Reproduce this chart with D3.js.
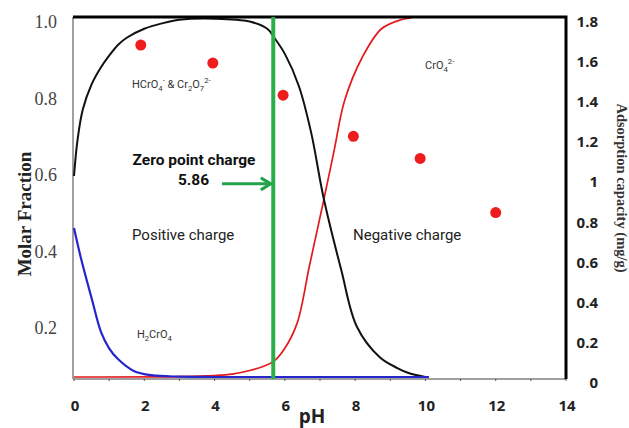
<!DOCTYPE html>
<html>
<head>
<meta charset="utf-8">
<script src="https://cdn.jsdelivr.net/npm/d3@7"></script>
<style>
  html, body { margin: 0; padding: 0; background: #fff; }
  svg { display: block; }
</style>
</head>
<body>
<svg id="chart" width="629" height="428"></svg>
<script>
// ---------- DATA ----------
// Molar fraction curves (pH vs fraction)
const blackPH   = [0, 0.1, 0.25, 0.5, 0.75, 1, 1.25, 1.5, 2, 2.5, 3, 4, 5, 5.5, 5.7, 6, 6.4, 6.75, 7.1, 7.6, 8.05, 8.7, 9.2, 9.5, 10];
const blackFrac = [0.56, 0.66, 0.745, 0.815, 0.86, 0.895, 0.925, 0.945, 0.97, 0.985, 0.995, 0.998, 0.99, 0.97, 0.945, 0.90, 0.81, 0.68, 0.50, 0.30, 0.14, 0.055, 0.025, 0.012, 0.0];

const redPH   = [0, 3, 4, 4.5, 5, 5.4, 5.7, 6, 6.35, 6.7, 7.1, 7.4, 7.7, 8.2, 8.75, 9.3, 9.6];
const redFrac = [0, 0.001, 0.004, 0.008, 0.018, 0.03, 0.045, 0.08, 0.15, 0.31, 0.49, 0.63, 0.77, 0.89, 0.97, 0.995, 1.0];

const bluePH   = [0, 0.2, 0.5, 0.77, 1.0, 1.25, 1.7, 2.2, 3, 4, 6, 8, 10.1];
const blueFrac = [0.415, 0.33, 0.22, 0.125, 0.08, 0.05, 0.017, 0.005, 0.001, 0, 0, 0, 0];

// Adsorption capacity points (right axis)
const adsPH  = [1.9, 3.95, 5.95, 7.95, 9.85, 12.0];
const adsCap = [1.685, 1.595, 1.435, 1.23, 1.12, 0.85];

// Tick labels
const xTicks      = [0, 2, 4, 6, 8, 10, 12, 14];
const leftTicks   = [0.2, 0.4, 0.6, 0.8, 1.0];
const rightTicks  = [0, 0.2, 0.4, 0.6, 0.8, 1, 1.2, 1.4, 1.6, 1.8];

const zpcLinePH = 5.67;      // where the green line is drawn
const zpcLabel  = "5.86";

// ---------- LAYOUT ----------
const svg = d3.select("#chart");
const L = 73, R = 566, T = 17, B = 379;

const x = d3.scaleLinear().domain([0, 14]).range([74, 566]);
const yFrac = d3.scaleLinear().domain([0, 1]).range([377, 18]);
const yLeftLabel = d3.scaleLinear().domain([0.2, 1.0]).range([328, 22]);
const yRight = d3.scaleLinear().domain([0, 1.8]).range([383, 22]);

const zip = (a, b) => a.map((v, i) => [v, b[i]]);
const line = d3.line().x(d => x(d[0])).y(d => yFrac(d[1])).curve(d3.curveCatmullRom.alpha(0.5));

// frame: left & bottom gray, top & right black
svg.append("line").attr("x1", L).attr("x2", L).attr("y1", T).attr("y2", B)
  .attr("stroke", "#808080").attr("stroke-width", 1.5);
svg.append("line").attr("x1", L).attr("x2", R).attr("y1", B).attr("y2", B)
  .attr("stroke", "#808080").attr("stroke-width", 1.5);

// small bottom ticks
const minor = d3.range(0, 15, 1);
svg.append("g").selectAll("line").data(minor).join("line")
  .attr("x1", d => x(d)).attr("x2", d => x(d))
  .attr("y1", B).attr("y2", B + 2)
  .attr("stroke", "#555").attr("stroke-width", 1);

// curves
svg.append("path").datum(zip(redPH, redFrac)).attr("d", line)
  .attr("fill", "none").attr("stroke", "#e3191c").attr("stroke-width", 1.7);
svg.append("path").datum(zip(blackPH, blackFrac)).attr("d", line)
  .attr("fill", "none").attr("stroke", "#111").attr("stroke-width", 2);
svg.append("path").datum(zip(bluePH, blueFrac)).attr("d", line)
  .attr("fill", "none").attr("stroke", "#2525cc").attr("stroke-width", 2.2);

// top and right border (black, thick)
svg.append("path")
  .attr("d", `M${L},${T}H${R}V${B}`)
  .attr("fill", "none").attr("stroke", "#000").attr("stroke-width", 3);

// green zero-point-charge line
svg.append("line")
  .attr("x1", x(zpcLinePH)).attr("x2", x(zpcLinePH))
  .attr("y1", T).attr("y2", B)
  .attr("stroke", "#2aae4a").attr("stroke-width", 4);

// adsorption points
svg.append("g").selectAll("circle").data(zip(adsPH, adsCap)).join("circle")
  .attr("cx", d => x(d[0])).attr("cy", d => yRight(d[1]))
  .attr("r", 5.5).attr("fill", "#ee1c1c");

// arrow
const ay = yFrac(0.538);
const ax1 = x(4.21), ax2 = x(5.6);
svg.append("line").attr("x1", ax1).attr("x2", ax2 - 3).attr("y1", ay).attr("y2", ay)
  .attr("stroke", "#22a24a").attr("stroke-width", 3);
svg.append("path")
  .attr("d", `M${ax2 - 10},${ay - 6} L${ax2},${ay} L${ax2 - 10},${ay + 6}`)
  .attr("fill", "none").attr("stroke", "#22a24a").attr("stroke-width", 3);

// x tick labels
svg.append("g").selectAll("text").data(xTicks).join("text")
  .attr("x", d => x(d) + 1).attr("y", 411)
  .attr("text-anchor", "middle")
  .attr("font-family", "'Open Sans', sans-serif").attr("font-weight", "bold")
  .attr("font-size", 15).attr("fill", "#222")
  .text(d => d);
svg.append("text").attr("x", 312).attr("y", 423).attr("text-anchor", "middle")
  .attr("font-family", "'Open Sans', sans-serif").attr("font-weight", "bold")
  .attr("font-size", 19).attr("fill", "#222").text("pH");

// left tick labels (serif)
svg.append("g").selectAll("text").data(leftTicks).join("text")
  .attr("x", 57).attr("y", d => yLeftLabel(d) + 6)
  .attr("text-anchor", "end")
  .attr("font-family", "'Liberation Serif', 'DejaVu Serif', serif")
  .attr("font-size", 18).attr("fill", "#444")
  .text(d => d.toFixed(1));

svg.append("text")
  .attr("transform", "translate(31,214) rotate(-90)")
  .attr("text-anchor", "middle")
  .attr("font-family", "'Liberation Serif', serif").attr("font-weight", "bold")
  .attr("font-size", 19).attr("fill", "#222").text("Molar Fraction");

// right tick labels
svg.append("g").selectAll("text").data(rightTicks).join("text")
  .attr("x", 598).attr("y", d => yRight(d) + 5)
  .attr("text-anchor", "end")
  .attr("font-family", "'Open Sans', sans-serif").attr("font-weight", "bold")
  .attr("font-size", 15).attr("fill", "#222")
  .text(d => d === 0 || d === 1 ? d : d.toFixed(1));

svg.append("text")
  .attr("transform", "translate(617,188) rotate(90)")
  .attr("text-anchor", "middle")
  .attr("font-family", "'Liberation Serif', serif").attr("font-weight", "bold")
  .attr("font-size", 14.5).attr("fill", "#333").text("Adsorption capacity (mg/g)");

// annotations
const sans = "Roboto, 'Open Sans', sans-serif";
function chem(xp, yp, parts, size) {
  const t = svg.append("text").attr("x", xp).attr("y", yp)
    .attr("font-family", sans).attr("font-size", size).attr("fill", "#333");
  parts.forEach(p => {
    const s = t.append("tspan").text(p[0]);
    if (p[1] === "sub") s.attr("font-size", size * 0.7).attr("dy", 3);
    else if (p[1] === "sup") s.attr("font-size", size * 0.7).attr("dy", -5);
    if (p[2]) s.attr("dy", (p[1] === "sub" ? 3 : p[1] === "sup" ? -5 : 0) + p[2]);
  });
  return t;
}
chem(x(1.65), yFrac(0.805), [["HCrO"], ["4", "sub"], ["-", "sup", -3], [" & Cr", null, 5], ["2", "sub"], ["O", null, -3], ["7", "sub"], ["2-", "sup", -3]], 11);
chem(x(9.99), yFrac(0.858), [["CrO"], ["4", "sub"], ["2-", "sup", -3]], 11);
chem(x(1.79), yFrac(0.109), [["H"], ["2", "sub"], ["CrO", null, -3], ["4", "sub"]], 11);

svg.append("text").attr("x", x(3.415)).attr("y", yFrac(0.59)).attr("text-anchor", "middle")
  .attr("font-family", sans).attr("font-weight", "bold").attr("font-size", 15.5)
  .attr("fill", "#111").text("Zero point charge");
svg.append("text").attr("x", x(3.4)).attr("y", yFrac(0.535)).attr("text-anchor", "middle")
  .attr("font-family", sans).attr("font-weight", "bold").attr("font-size", 15.5)
  .attr("fill", "#111").text(zpcLabel);

svg.append("text").attr("x", x(1.65)).attr("y", yFrac(0.382))
  .attr("font-family", sans).attr("font-size", 15).attr("fill", "#222").text("Positive charge");
svg.append("text").attr("x", x(7.94)).attr("y", yFrac(0.382))
  .attr("font-family", sans).attr("font-size", 15).attr("fill", "#222").text("Negative charge");
</script>
</body>
</html>
